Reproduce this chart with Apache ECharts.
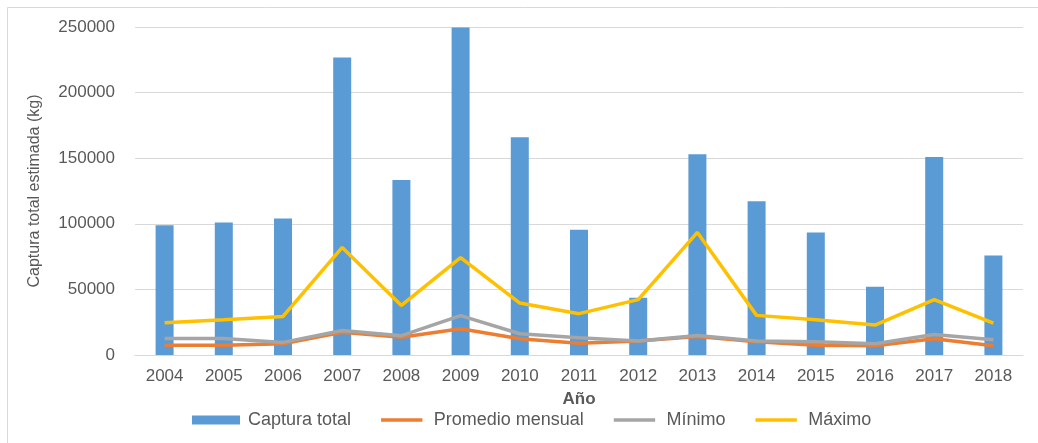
<!DOCTYPE html>
<html><head><meta charset="utf-8">
<script src="https://cdn.jsdelivr.net/npm/echarts@6/dist/echarts.min.js"></script>
<style>html,body{margin:0;padding:0;background:#fff;}#c{width:1038px;height:443px;}</style>
</head><body><div id="c"></div>
<script>
const years = ['2004','2005','2006','2007','2008','2009','2010','2011','2012','2013','2014','2015','2016','2017','2018'];
const capturaTotal = [98800,101000,104100,226700,133400,249600,166000,95400,43700,153000,117100,93400,52100,151000,75800];
const promedioMensual = [7500,7500,8600,17400,13600,20000,12400,9000,10600,14100,10100,7500,7000,12400,7000];
const minimo = [12600,12600,9600,18700,14700,30000,16200,13100,10600,14900,10600,10100,8600,15700,11600];
const maximo = [24600,26900,29400,82000,37800,74300,39600,31500,42200,93400,30200,26900,22800,42200,24300];

const font = 'Liberation Sans, Arial, sans-serif';
const txt = '#595959';
const lineIcon = 'path://M0,0 L46,0 L46,0.01 L0,0.01 Z M0,3 L46,3 L46,7 L0,7 Z M0,10 L46,10 L46,10.01 L0,10.01 Z';
const chart = echarts.init(document.getElementById('c'));
chart.setOption({
  animation: false,
  backgroundColor: '#fff',
  graphic: [{type:'rect', shape:{x:7.5,y:7.5,width:1040,height:450}, style:{fill:'none', stroke:'#D9D9D9', lineWidth:1}, silent:true}],
  grid: {left:135, right:15, top:27, bottom:88},
  legend: {
    bottom: 9, left: 187, itemWidth: 48, itemHeight: 9, itemGap: 30,
    textStyle: {color: txt, fontFamily: font, fontSize: 18, padding: [0,0,0,3]},
    data: [
      {name:'Captura total', icon:'rect'},
      {name:'Promedio mensual', icon: lineIcon},
      {name:'Mínimo', icon: lineIcon},
      {name:'Máximo', icon: lineIcon}
    ]
  },
  xAxis: {
    type: 'category', data: years,
    name: 'Año', nameLocation: 'middle', nameGap: 36,
    nameTextStyle: {color: txt, fontFamily: font, fontSize: 17, fontWeight: 'bold'},
    axisLine: {lineStyle: {color: '#D9D9D9'}},
    axisTick: {show: false},
    axisLabel: {color: txt, fontFamily: font, fontSize: 17, margin: 13}
  },
  yAxis: {
    type: 'value', min: 0, max: 250000, interval: 50000,
    name: 'Captura total estimada (kg)', nameLocation: 'middle', nameGap: 92, nameRotate: 90,
    nameTextStyle: {color: txt, fontFamily: font, fontSize: 16},
    axisLine: {show: false}, axisTick: {show: false},
    axisLabel: {color: txt, fontFamily: font, fontSize: 17, margin: 20, formatter: v => String(v)},
    splitLine: {lineStyle: {color: '#D9D9D9'}}
  },
  series: [
    {name:'Captura total', type:'bar', data: capturaTotal, barWidth: 18, itemStyle:{color:'#5B9BD5'}},
    {name:'Promedio mensual', type:'line', data: promedioMensual, symbol:'none', lineStyle:{color:'#ED7D31', width:3.5}, itemStyle:{color:'#ED7D31'}},
    {name:'Mínimo', type:'line', data: minimo, symbol:'none', lineStyle:{color:'#A5A5A5', width:3.5}, itemStyle:{color:'#A5A5A5'}},
    {name:'Máximo', type:'line', data: maximo, symbol:'none', lineStyle:{color:'#FFC000', width:3.5}, itemStyle:{color:'#FFC000'}}
  ]
});
</script></body></html>
